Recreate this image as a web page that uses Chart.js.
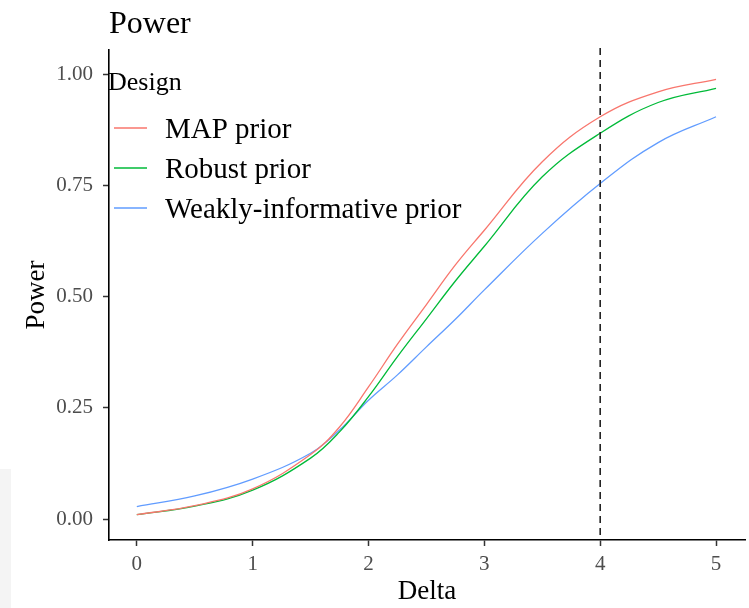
<!DOCTYPE html>
<html>
<head>
<meta charset="utf-8">
<script src="https://cdn.jsdelivr.net/npm/chart.js@4/dist/chart.umd.min.js"></script>
<style>
  html, body { margin: 0; padding: 0; background: #fff; }
  #wrap { position: relative; width: 749px; height: 608px; }
  #strip { position: absolute; left: 0; top: 469px; width: 11px; height: 139px; background: #f4f4f4; }
  #powerchart { position: absolute; left: 0; top: 0; }
</style>
</head>
<body>
<div id="wrap">
  <div id="strip"></div>
  <canvas id="powerchart" width="749" height="608"></canvas>
</div>
<script>
// values
const delta = [0, 0.5, 1, 1.5, 1.75, 2, 2.25, 2.5, 2.75, 3, 3.5, 4, 4.5, 5];
const mapPrior = [0.010, 0.030, 0.068, 0.145, 0.207, 0.297, 0.393, 0.482, 0.571, 0.649, 0.803, 0.904, 0.960, 0.988];
const robustPrior = [0.010, 0.029, 0.065, 0.137, 0.196, 0.275, 0.365, 0.450, 0.535, 0.613, 0.769, 0.867, 0.936, 0.968];
const weakPrior = [0.028, 0.052, 0.090, 0.148, 0.200, 0.267, 0.324, 0.387, 0.449, 0.515, 0.642, 0.754, 0.846, 0.904];

const seriesNames = ["MAP prior", "Robust prior", "Weakly-informative prior"];
const seriesColors = ["#F8766D", "#00BA38", "#619CFF"];
const xTicks = [0, 1, 2, 3, 4, 5];
const yTicks = [0, 0.25, 0.5, 0.75, 1];
const refDelta = 4;

const serif = "'Liberation Serif', 'Times New Roman', serif";

function toPoints(ys) {
    return ys.map((y, i) => ({ x: delta[i], y: y }));
}

const datasets = [mapPrior, robustPrior, weakPrior].map((ys, i) => ({
    label: seriesNames[i],
    data: toPoints(ys),
    borderColor: seriesColors[i],
    backgroundColor: seriesColors[i],
    borderWidth: 1.3,
    pointRadius: 0,
    fill: false,
    tension: 0.4
}));

// title, legend and the dashed reference line
const extras = {
    id: 'extras',
    afterDatasetsDraw(chart) {
        const ctx = chart.ctx;
        const x = chart.scales.x.getPixelForValue(refDelta);
        ctx.save();
        ctx.strokeStyle = '#222';
        ctx.lineWidth = 1.6;
        ctx.setLineDash([7, 5]);
        ctx.beginPath();
        ctx.moveTo(x, chart.chartArea.top - 2);
        ctx.lineTo(x, chart.chartArea.bottom);
        ctx.stroke();
        ctx.restore();
    },
    afterDraw(chart) {
        const ctx = chart.ctx;
        ctx.save();
        ctx.fillStyle = '#000';
        ctx.textAlign = 'left';
        ctx.textBaseline = 'alphabetic';
        ctx.font = "32px " + serif;
        ctx.fillText("Power", 109, 33);

        ctx.font = "26px " + serif;
        ctx.fillText("Design", 108, 90);

        ctx.font = "29px " + serif;
        chart.data.datasets.forEach((ds, i) => {
            const y = 128 + i * 40;
            ctx.strokeStyle = ds.borderColor;
            ctx.lineWidth = 1.3;
            ctx.beginPath();
            ctx.moveTo(114, y);
            ctx.lineTo(147, y);
            ctx.stroke();
            ctx.fillStyle = '#000';
            ctx.fillText(ds.label, 165, y + 10);
        });
        ctx.restore();
    }
};

const config = {
    type: 'line',
    data: { datasets: datasets },
    options: {
        responsive: false,
        animation: false,
        layout: { padding: { top: 50, right: 4, left: 0, bottom: 0 } },
        plugins: {
            legend: { display: false },
            title: { display: false },
            tooltip: { enabled: false }
        },
        scales: {
            x: {
                type: 'linear',
                min: -0.24,
                max: 5.25,
                afterBuildTicks: s => { s.ticks = xTicks.map(v => ({ value: v })); },
                afterFit: s => { s.height = 68; },
                ticks: {
                    color: '#4D4D4D',
                    font: { family: serif, size: 21 },
                    padding: 6,
                    maxRotation: 0
                },
                grid: { drawOnChartArea: false, drawTicks: true, tickLength: 6, tickColor: '#333', tickWidth: 1.5 },
                border: { display: true, color: '#000', width: 1.6 },
                title: {
                    display: true,
                    text: 'Delta',
                    color: '#000',
                    font: { family: serif, size: 27 },
                    padding: { top: 0, bottom: 0 }
                }
            },
            y: {
                min: -0.047,
                max: 1.054,
                afterBuildTicks: s => { s.ticks = yTicks.map(v => ({ value: v })); },
                afterFit: s => { s.width = 109; },
                ticks: {
                    color: '#4D4D4D',
                    font: { family: serif, size: 21 },
                    padding: 10,
                    callback: v => v.toFixed(2)
                },
                grid: { drawOnChartArea: false, drawTicks: true, tickLength: 6, tickColor: '#333', tickWidth: 1.5 },
                border: { display: true, color: '#000', width: 1.6 },
                title: {
                    display: true,
                    text: 'Power',
                    color: '#000',
                    font: { family: serif, size: 27 },
                    padding: { top: 21, bottom: 0 }
                }
            }
        }
    },
    plugins: [extras]
};

new Chart(document.getElementById('powerchart'), config);
</script>
</body>
</html>
